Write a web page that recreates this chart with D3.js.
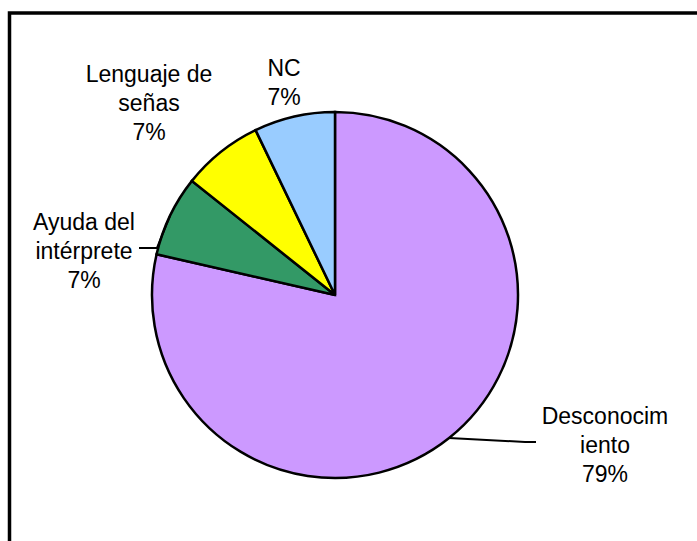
<!DOCTYPE html>
<html>
<head>
<meta charset="utf-8">
<script src="https://cdn.jsdelivr.net/npm/d3@7"></script>
<style>
  body { margin: 0; background: #fff; }
  svg { display: block; font-family: "Liberation Sans", Arial, sans-serif; }
</style>
</head>
<body>
<svg id="chart"></svg>
<script>
// données
const categories = ["Desconocimiento", "Ayuda del intérprete", "Lenguaje de señas", "NC"];
const values = [11, 1, 1, 1];
const colors = ["#CC99FF", "#339966", "#FFFF00", "#99CCFF"];
// lignes des étiquettes (coupées comme dans l'original)
const labelLines = [["Desconocim", "iento"], ["Ayuda del", "intérprete"], ["Lenguaje de", "señas"], ["NC"]];

const width = 697, height = 541;
const cx = 335, cy = 295, radius = 183;
const lineHeight = 29;

// position des étiquettes (centre, première ligne) par rapport au centre du camembert
const labelPos = [[270, 129], [-251, -65], [-186, -213], [-51, -219]];
// coude des lignes de rappel (null = pas de ligne)
const leaderElbow = [[190, 147], [-178, -47], null, null];

const svg = d3.select("#chart")
    .attr("width", width)
    .attr("height", height);

// cadre
svg.append("rect")
    .attr("x", 9.5)
    .attr("y", 13)
    .attr("width", 720)
    .attr("height", 560)
    .attr("fill", "none")
    .attr("stroke", "#000")
    .attr("stroke-width", 3.5);

const total = d3.sum(values);
const pct = d3.format(".0%");

const pie = d3.pie().sort(null).value(d => d)(values);
const arc = d3.arc().innerRadius(0).outerRadius(radius);
const edge = d3.arc().innerRadius(radius).outerRadius(radius);

const g = svg.append("g").attr("transform", `translate(${cx},${cy})`);

g.selectAll("path.slice")
  .data(pie)
  .join("path")
    .attr("class", "slice")
    .attr("d", arc)
    .attr("fill", (d, i) => colors[i])
    .attr("stroke", "#000")
    .attr("stroke-width", 2.5)
    .attr("stroke-linejoin", "miter");

// lignes de rappel
pie.forEach((d, i) => {
  const elbow = leaderElbow[i];
  if (!elbow) return;
  const start = edge.centroid(d);
  const end = [elbow[0] + (elbow[0] > 0 ? 11 : -18), elbow[1]];
  g.append("path")
      .attr("d", d3.line()([start, elbow, end]))
      .attr("fill", "none")
      .attr("stroke", "#000")
      .attr("stroke-width", 2);
});

// étiquettes
pie.forEach((d, i) => {
  const lines = labelLines[i].concat(pct(values[i] / total));
  const text = g.append("text")
      .attr("text-anchor", "middle")
      .attr("font-size", 23)
      .attr("fill", "#000");
  lines.forEach((l, k) => {
    text.append("tspan")
        .attr("x", labelPos[i][0])
        .attr("y", labelPos[i][1] + k * lineHeight)
        .text(l);
  });
});
</script>
</body>
</html>
